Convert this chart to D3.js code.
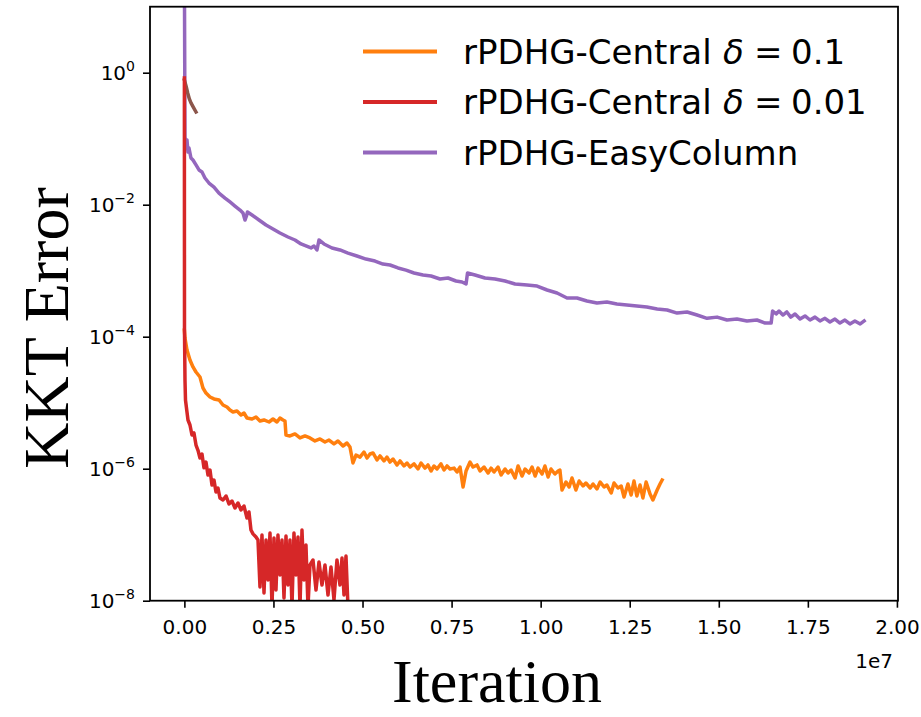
<!DOCTYPE html>
<html>
<head>
<meta charset="utf-8">
<script src="https://cdn.jsdelivr.net/npm/d3@7"></script>
<style>
  html, body { margin: 0; padding: 0; background: #ffffff; }
  svg { display: block; }
</style>
</head>
<body>
<svg id="chart" width="921" height="717"></svg>
<script>
// KKT error versus iteration count for the rPDHG variants.

// Iteration axis ticks (iteration counts) and KKT axis ticks (decades).
const xTickValues = [0, 2.5e6, 5e6, 7.5e6, 10e6, 12.5e6, 15e6, 17.5e6, 20e6];
const yTickValues = [1e-8, 1e-6, 1e-4, 1e-2, 1e0];
const yTickExponents = ["\u22128", "\u22126", "\u22124", "\u22122", "0"];

const seriesNames = ["rPDHG-Central \u03b4 = 0.1", "rPDHG-Central \u03b4 = 0.01", "rPDHG-EasyColumn"];

// rPDHG-Central, delta = 0.1
const iterCentral01 = [
  0, 0.017e6, 0.073e6, 0.157e6, 0.241e6, 0.326e6, 0.438e6, 0.522e6, 0.607e6, 0.719e6, 0.831e6, 0.971e6,
  1.084e6, 1.196e6, 1.280e6, 1.364e6, 1.476e6, 1.589e6, 1.673e6, 1.757e6, 1.898e6, 2.010e6, 2.122e6, 2.235e6,
  2.375e6, 2.487e6, 2.599e6, 2.683e6, 2.768e6, 2.824e6, 2.852e6, 2.964e6, 3.104e6, 3.245e6, 3.385e6, 3.525e6,
  3.666e6, 3.806e6, 3.946e6, 4.059e6, 4.199e6, 4.311e6, 4.452e6, 4.564e6, 4.648e6, 4.732e6, 4.817e6, 4.929e6,
  5.041e6, 5.126e6, 5.210e6, 5.294e6, 5.406e6, 5.490e6, 5.603e6, 5.687e6, 5.771e6, 5.856e6, 5.968e6, 6.052e6,
  6.164e6, 6.249e6, 6.333e6, 6.445e6, 6.558e6, 6.642e6, 6.754e6, 6.838e6, 6.923e6, 7.007e6, 7.091e6, 7.203e6,
  7.288e6, 7.372e6, 7.456e6, 7.569e6, 7.653e6, 7.737e6, 7.822e6, 7.906e6, 8.018e6, 8.102e6, 8.215e6, 8.299e6,
  8.411e6, 8.524e6, 8.608e6, 8.692e6, 8.804e6, 8.889e6, 9.001e6, 9.085e6, 9.170e6, 9.282e6, 9.366e6, 9.478e6,
  9.563e6, 9.675e6, 9.759e6, 9.844e6, 9.928e6, 10.04e6, 10.12e6, 10.21e6, 10.29e6, 10.40e6, 10.49e6, 10.54e6,
  10.60e6, 10.71e6, 10.80e6, 10.88e6, 10.99e6, 11.08e6, 11.19e6, 11.27e6, 11.39e6, 11.47e6, 11.58e6, 11.67e6,
  11.78e6, 11.86e6, 11.98e6, 12.06e6, 12.17e6, 12.26e6, 12.34e6, 12.45e6, 12.54e6, 12.62e6, 12.70e6, 12.79e6,
  12.87e6, 12.96e6, 13.07e6, 13.15e6, 13.27e6, 13.35e6, 13.41e6
];
const kktCentral01 = [
  1.26e-4, 9.55e-5, 6.3e-5, 4.43e-5, 3.48e-5, 2.92e-5, 2.45e-5, 1.67e-5, 1.40e-5, 1.22e-5, 1.14e-5, 1.10e-5,
  9.23e-6, 8.61e-6, 7.75e-6, 7.23e-6, 7.49e-6, 6.51e-6, 6.98e-6, 5.86e-6, 5.66e-6, 6.07e-6, 5.28e-6, 5.47e-6,
  5.10e-6, 5.66e-6, 5.10e-6, 5.86e-6, 5.47e-6, 5.28e-6, 3.24e-6, 3.13e-6, 3.36e-6, 2.92e-6, 3.13e-6, 2.92e-6,
  2.63e-6, 2.82e-6, 2.54e-6, 2.72e-6, 2.37e-6, 2.63e-6, 2.21e-6, 2.45e-6, 2.13e-6, 1.22e-6, 1.61e-6, 1.50e-6,
  1.79e-6, 1.45e-6, 1.67e-6, 1.73e-6, 1.36e-6, 1.56e-6, 1.31e-6, 1.50e-6, 1.26e-6, 1.40e-6, 1.14e-6, 1.31e-6,
  1.10e-6, 1.22e-6, 1.06e-6, 1.18e-6, 9.9e-7, 1.22e-6, 1.02e-6, 1.14e-6, 9.23e-7, 1.10e-6, 9.9e-7, 1.18e-6,
  9.55e-7, 1.10e-6, 9.9e-7, 1.02e-6, 8.91e-7, 1.06e-6, 5.28e-7, 9.23e-7, 1.26e-6, 1.06e-6, 1.14e-6, 9.23e-7,
  1.06e-6, 8.61e-7, 1.02e-6, 8.91e-7, 1.06e-6, 8.03e-7, 9.9e-7, 8.61e-7, 9.55e-7, 7.23e-7, 1.10e-6, 7.75e-7,
  9.9e-7, 8.61e-7, 1.06e-6, 7.75e-7, 1.02e-6, 8.31e-7, 1.10e-6, 7.49e-7, 9.9e-7, 8.31e-7, 9.23e-7, 9.55e-7,
  4.76e-7, 6.29e-7, 5.28e-7, 7.23e-7, 4.76e-7, 6.51e-7, 5.47e-7, 6.07e-7, 5.10e-7, 5.86e-7, 4.93e-7, 6.29e-7,
  5.28e-7, 5.66e-7, 4.29e-7, 6.07e-7, 5.10e-7, 5.47e-7, 3.73e-7, 5.86e-7, 4.00e-7, 6.51e-7, 3.86e-7, 5.66e-7,
  3.60e-7, 6.29e-7, 4.14e-7, 3.36e-7, 4.76e-7, 5.86e-7, 6.74e-7
];

// rPDHG-Central, delta = 0.01
const iterCentral001 = [
  0, 0.003e6, 0.017e6, 0.031e6, 0.073e6, 0.101e6, 0.157e6, 0.213e6, 0.269e6, 0.326e6, 0.382e6, 0.438e6,
  0.494e6, 0.550e6, 0.606e6, 0.662e6, 0.719e6, 0.775e6, 0.831e6, 0.887e6, 0.943e6, 0.999e6, 1.084e6, 1.168e6,
  1.252e6, 1.336e6, 1.420e6, 1.505e6, 1.589e6, 1.673e6, 1.757e6, 1.813e6, 1.869e6, 1.926e6, 2.010e6, 2.066e6,
  2.122e6, 2.178e6, 2.235e6, 2.291e6, 2.347e6, 2.403e6, 2.459e6, 2.515e6, 2.571e6, 2.627e6, 2.683e6, 2.740e6,
  2.796e6, 2.852e6, 2.908e6, 2.964e6, 3.020e6, 3.076e6, 3.132e6, 3.189e6, 3.245e6, 3.301e6, 3.357e6, 3.413e6,
  3.469e6, 3.525e6, 3.610e6, 3.694e6, 3.778e6, 3.862e6, 3.946e6, 4.031e6, 4.115e6, 4.199e6, 4.283e6, 4.367e6,
  4.424e6, 4.480e6, 4.536e6, 4.592e6
];
const kktCentral001 = [
  0.83, 1.26e-4, 2.21e-5, 1.10e-5, 7.23e-6, 5.47e-6, 4.59e-6, 3.24e-6, 3.48e-6, 2.28e-6, 1.90e-6, 1.45e-6,
  1.67e-6, 1.03e-6, 1.26e-6, 8.03e-7, 9.55e-7, 5.66e-7, 6.74e-7, 4.43e-7, 5.10e-7, 3.60e-7, 3.36e-7, 3.86e-7,
  2.92e-7, 3.24e-7, 2.54e-7, 3.02e-7, 2.37e-7, 2.72e-7, 1.79e-7, 2.21e-7, 1.18e-7, 1.03e-7, 9.23e-8, 8.31e-8,
  1.61e-8, 9.9e-8, 1.31e-8, 8.31e-8, 2.06e-8, 1.06e-7, 8e-9, 8.91e-8, 1.45e-8, 9.9e-8, 2.45e-8, 8.31e-8,
  1.10e-8, 9.55e-8, 1.73e-8, 8.31e-8, 8e-9, 1.06e-7, 2.45e-8, 9.23e-8, 8e-9, 1.18e-7, 2.06e-8, 6.98e-8,
  8e-9, 3.48e-8, 4.14e-8, 1.45e-8, 3.86e-8, 1.73e-8, 3.48e-8, 1.22e-8, 3.24e-8, 1.03e-8, 4.14e-8, 1.73e-8,
  4.43e-8, 1.22e-8, 4.76e-8, 8e-9
];

// rPDHG-EasyColumn
const iterEasyColumn = [
  0, 0.017e6, 0.045e6, 0.073e6, 0.101e6, 0.129e6, 0.185e6, 0.241e6, 0.326e6, 0.410e6, 0.494e6, 0.578e6,
  0.690e6, 0.831e6, 0.971e6, 1.140e6, 1.280e6, 1.420e6, 1.561e6, 1.645e6, 1.701e6, 1.743e6, 1.771e6, 1.898e6,
  2.094e6, 2.291e6, 2.487e6, 2.683e6, 2.908e6, 3.104e6, 3.273e6, 3.413e6, 3.553e6, 3.638e6, 3.722e6, 3.778e6,
  3.918e6, 4.143e6, 4.367e6, 4.592e6, 4.844e6, 5.097e6, 5.350e6, 5.574e6, 5.771e6, 5.996e6, 6.220e6, 6.445e6,
  6.698e6, 6.923e6, 7.175e6, 7.400e6, 7.624e6, 7.793e6, 7.906e6, 7.947e6, 8.157e6, 8.438e6, 8.719e6, 9.001e6,
  9.282e6, 9.619e6, 9.900e6, 10.18e6, 10.46e6, 10.74e6, 11.02e6, 11.30e6, 11.58e6, 11.86e6, 12.14e6, 12.42e6,
  12.70e6, 12.98e6, 13.27e6, 13.55e6, 13.83e6, 14.11e6, 14.39e6, 14.67e6, 14.95e6, 15.23e6, 15.51e6, 15.79e6,
  16.07e6, 16.30e6, 16.47e6, 16.51e6, 16.61e6, 16.69e6, 16.80e6, 16.91e6, 17.02e6, 17.14e6, 17.28e6, 17.42e6,
  17.56e6, 17.70e6, 17.84e6, 17.98e6, 18.12e6, 18.26e6, 18.40e6, 18.54e6, 18.68e6, 18.82e6, 18.97e6, 19.08e6
];
const kktEasyColumn = [
  40, 0.106, 0.0803, 0.0955, 0.0629, 0.0723, 0.0510, 0.0476, 0.0400, 0.0336, 0.0313, 0.0254,
  0.0213, 0.0185, 0.0150, 0.0126, 0.0110, 9.55e-3, 8.31e-3, 7.49e-3, 5.86e-3, 6.74e-3, 7.75e-3, 6.98e-3,
  5.86e-3, 4.93e-3, 4.29e-3, 3.73e-3, 3.24e-3, 2.92e-3, 2.54e-3, 2.37e-3, 2.21e-3, 2.37e-3, 2.06e-3, 2.92e-3,
  2.54e-3, 2.21e-3, 2.06e-3, 1.85e-3, 1.67e-3, 1.50e-3, 1.40e-3, 1.26e-3, 1.22e-3, 1.10e-3, 1.02e-3, 9.23e-4,
  8.61e-4, 8.31e-4, 7.49e-4, 7.75e-4, 6.98e-4, 6.74e-4, 6.29e-4, 9.23e-4, 8.61e-4, 7.75e-4, 7.49e-4, 6.98e-4,
  6.29e-4, 6.07e-4, 5.86e-4, 5.10e-4, 4.59e-4, 3.86e-4, 3.86e-4, 3.48e-4, 3.24e-4, 3.36e-4, 3.13e-4, 3.02e-4,
  2.92e-4, 2.82e-4, 2.63e-4, 2.54e-4, 2.28e-4, 2.37e-4, 2.13e-4, 1.90e-4, 1.98e-4, 1.79e-4, 1.85e-4, 1.73e-4,
  1.79e-4, 1.61e-4, 1.61e-4, 2.45e-4, 2.21e-4, 2.45e-4, 2.13e-4, 2.37e-4, 1.98e-4, 2.21e-4, 1.85e-4, 2.06e-4,
  1.79e-4, 1.98e-4, 1.73e-4, 1.90e-4, 1.67e-4, 1.85e-4, 1.61e-4, 1.79e-4, 1.56e-4, 1.73e-4, 1.56e-4, 1.73e-4
];

// Short unlabeled run that stops early
const iterShortRun = [0, 0.05e6, 0.093e6, 0.14e6, 0.185e6, 0.25e6, 0.326e6];
const kktShortRun = [0.775, 0.62, 0.493, 0.40, 0.348, 0.30, 0.254];

const colors = {
  central01: "#ff7f0e",
  central001: "#d62728",
  easy: "#9467bd",
  short: "#8c564b"
};

const svg = d3.select("#chart");
const plot = { left: 150, right: 898, top: 6.7, bottom: 600.7 };

const x = d3.scaleLinear().domain([-0.965e6, 20.03e6]).range([plot.left, plot.right]);
const y = d3.scaleLog().domain([1e-8, 10]).range([plot.bottom, plot.top]);

svg.append("defs").append("clipPath").attr("id", "plot-clip")
  .append("rect")
  .attr("x", plot.left).attr("y", plot.top)
  .attr("width", plot.right - plot.left).attr("height", plot.bottom - plot.top);

const line = d3.line().x(d => x(d[0])).y(d => y(d[1]));
const zip = (a, b) => a.map((v, i) => [v, b[i]]);

const lines = svg.append("g").attr("clip-path", "url(#plot-clip)");
const drawOrder = [
  [iterEasyColumn, kktEasyColumn, colors.easy],
  [iterShortRun, kktShortRun, colors.short],
  [iterCentral01, kktCentral01, colors.central01],
  [iterCentral001, kktCentral001, colors.central001]
];
drawOrder.forEach(([xs, ys, c]) => {
  lines.append("path")
    .datum(zip(xs, ys))
    .attr("d", line)
    .attr("fill", "none")
    .attr("stroke", c)
    .attr("stroke-width", 3.5)
    .attr("stroke-linejoin", "round")
    .attr("stroke-linecap", "square");
});

// Axes
const tickFont = "'DejaVu Sans', sans-serif";

const xAxis = svg.append("g")
  .attr("transform", `translate(0,${plot.bottom})`)
  .call(d3.axisBottom(x).tickValues(xTickValues).tickSize(7).tickPadding(12)
    .tickFormat(v => (v / 1e7).toFixed(2)));
xAxis.select(".domain").remove();
xAxis.selectAll(".tick line").attr("stroke", "#000").attr("stroke-width", 1.6);
xAxis.selectAll(".tick text").attr("font-family", tickFont).attr("font-size", 20).attr("fill", "#000");

const yAxis = svg.append("g")
  .attr("transform", `translate(${plot.left},0)`)
  .call(d3.axisLeft(y).tickValues(yTickValues).tickSize(7).tickFormat(""));
yAxis.select(".domain").remove();
yAxis.selectAll(".tick line").attr("stroke", "#000").attr("stroke-width", 1.6);
yAxis.selectAll(".tick").each(function(d) {
  const t = d3.select(this).append("text")
    .attr("x", -15).attr("y", 7)
    .attr("text-anchor", "end")
    .attr("font-family", tickFont)
    .attr("fill", "#000");
  t.append("tspan").attr("font-size", 20).text("10");
  t.append("tspan").attr("font-size", 14).attr("dy", -9).text(yTickExponents[yTickValues.indexOf(d)]);
});

// Frame
svg.append("rect")
  .attr("x", plot.left).attr("y", plot.top)
  .attr("width", plot.right - plot.left).attr("height", plot.bottom - plot.top)
  .attr("fill", "none").attr("stroke", "#000").attr("stroke-width", 1.8);

// Offset text for the iteration axis
svg.append("text")
  .attr("x", 893).attr("y", 668)
  .attr("text-anchor", "end")
  .attr("font-family", tickFont).attr("font-size", 20)
  .attr("fill", "#000")
  .text("1e7");

// Axis titles
svg.append("text")
  .attr("x", 497).attr("y", 702)
  .attr("text-anchor", "middle")
  .attr("font-family", "'Liberation Serif', serif")
  .attr("font-size", 62)
  .attr("fill", "#000")
  .text("Iteration");

svg.append("text")
  .attr("transform", "translate(68,328) rotate(-90)")
  .attr("text-anchor", "middle")
  .attr("font-family", "'Liberation Serif', serif")
  .attr("font-size", 64)
  .attr("fill", "#000")
  .text("KKT Error");

// Legend
const legendRows = [
  { color: colors.central01, prefix: "rPDHG-Central", value: "0.1", hy: 51.5, by: 63.5 },
  { color: colors.central001, prefix: "rPDHG-Central", value: "0.01", hy: 102, by: 114 },
  { color: colors.easy, prefix: "rPDHG-EasyColumn", value: null, hy: 152.5, by: 164.5 }
];
const legend = svg.append("g");
legendRows.forEach(r => {
  legend.append("line")
    .attr("x1", 363).attr("x2", 437)
    .attr("y1", r.hy).attr("y2", r.hy)
    .attr("stroke", r.color).attr("stroke-width", 4);
  const t = legend.append("text")
    .attr("x", 463).attr("y", r.by)
    .attr("font-family", tickFont).attr("font-size", 34)
    .attr("fill", "#000");
  t.append("tspan").text(r.prefix);
  if (r.value) {
    t.append("tspan").attr("x", 723).attr("font-style", "italic").text("\u03b4");
    t.append("tspan").attr("x", 754).text("=");
    t.append("tspan").attr("x", 791).text(r.value);
  }
});
</script>
</body>
</html>
